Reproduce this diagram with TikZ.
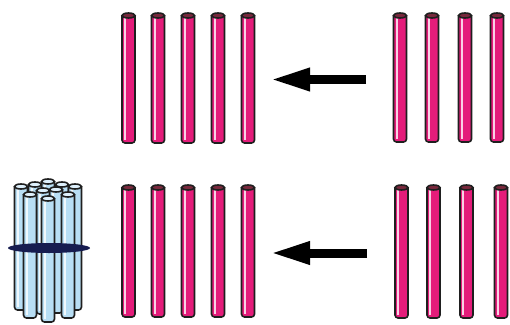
\documentclass[tikz,border=0pt]{standalone}
\usetikzlibrary{arrows.meta}
\definecolor{rodpink}{RGB}{228,28,122}
\definecolor{rodcap}{RGB}{120,40,60}
\definecolor{rodblue}{RGB}{184,222,244}
\definecolor{capblue}{RGB}{222,240,252}
\definecolor{bandnavy}{RGB}{22,28,80}
\tikzset{
  rodline/.style={draw=black!88, line width=1.6pt},
  bigarrow/.style={line width=9pt, -{Triangle[length=40pt,width=21pt]}},
}
% one upright rod: centre x, top y, bottom y, body colour, cap colour
\newcommand\rodshape[5]{%
  \draw[rodline, fill=#4, rounded corners=3pt]
    (#1-6.5,#2+2.5) -- (#1-6.5,#3) -- (#1+6.5,#3) -- (#1+6.5,#2+2.5);
  \fill[white, opacity=.8] (#1-4.3,#2+5) rectangle (#1-2.5,#3-3);
  \draw[rodline, fill=#5] (#1,#2+2.5) ellipse [x radius=6.5, y radius=2.5];
}
\begin{document}
\begin{tikzpicture}[x=1pt, y=-1pt]
\useasboundingbox (0,0) rectangle (510,324);

% upper row of rods
\foreach \cx in {128.5,158,188,218,248} {\rodshape{\cx}{13}{143}{rodpink}{rodcap}}
\foreach \cx in {400,432,465,497} {\rodshape{\cx}{13}{142}{rodpink}{rodcap}}

% lower row of rods
\foreach \cx in {128.5,158,188,218,248} {\rodshape{\cx}{185}{317}{rodpink}{rodcap}}
\foreach \cx in {401.5,433.5,466.5,501} {\rodshape{\cx}{185}{318}{rodpink}{rodcap}}

% arrows from the right-hand groups to the left-hand groups
\coordinate (a1s) at (366,79.5);
\coordinate (a1e) at (270,79.5);
\coordinate (a2s) at (367,253);
\coordinate (a2e) at (270,253);
\draw[bigarrow] (a1s) -- (a1e);
\draw[bigarrow] (a2s) -- (a2e);

% bundle of rods tied with a band, back to front
\foreach \cx/\ty in {48/179, 35/182, 62/182, 21/184, 75/184,
                     56/187, 43/188, 30/192, 68/192, 48/196}
  {\rodshape{\cx}{\ty}{\ty+126}{rodblue}{capblue}}
\fill[bandnavy] (49,248) ellipse [x radius=41, y radius=5];
\end{tikzpicture}
\end{document}
